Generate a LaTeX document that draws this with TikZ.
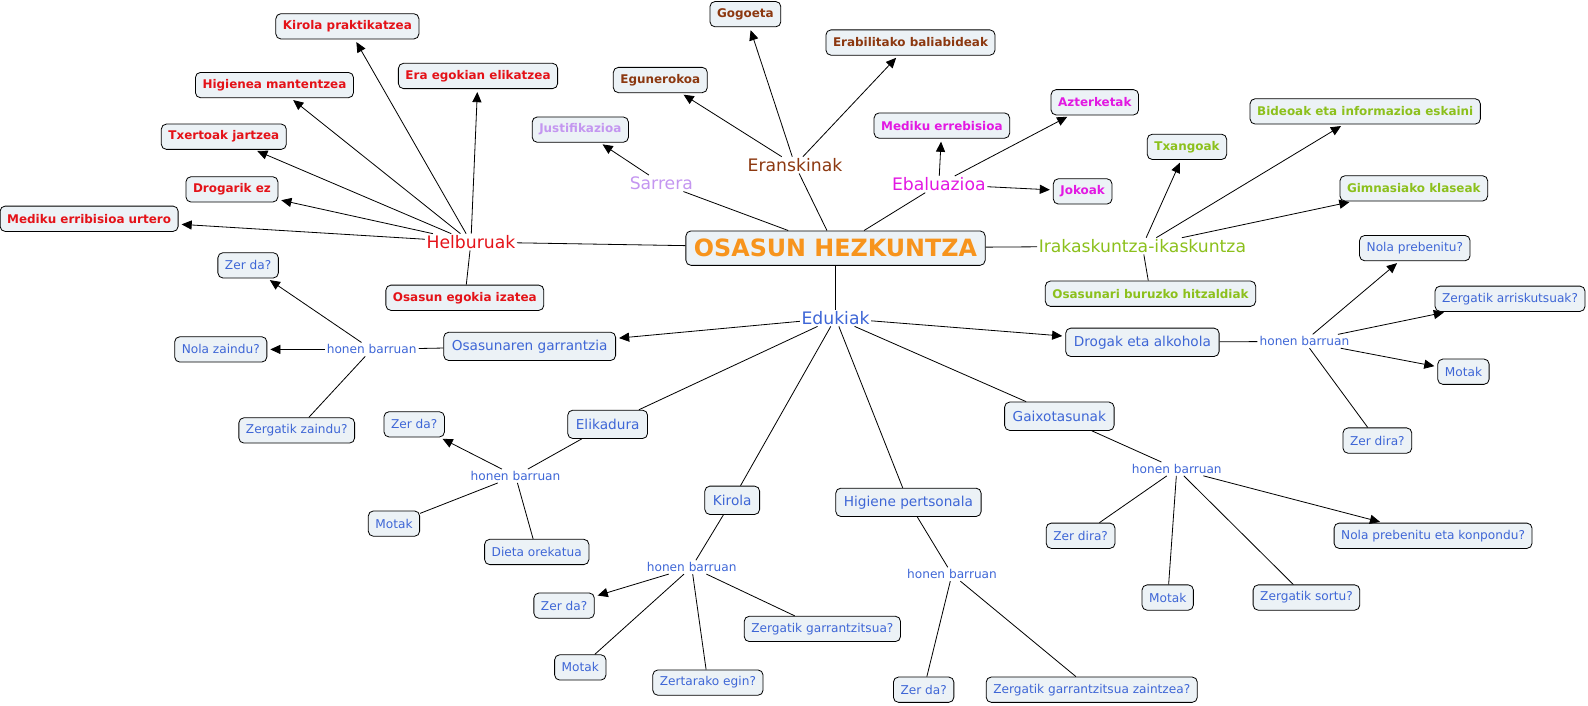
\documentclass[tikz,border=0pt]{standalone}
\usepackage{fontspec}
\setmainfont{DejaVu Sans}
\usetikzlibrary{arrows.meta}
\definecolor{boxfill}{RGB}{236,242,246}
\definecolor{cred}{RGB}{228,18,24}
\definecolor{corange}{RGB}{247,148,29}
\definecolor{clav}{RGB}{196,150,240}
\definecolor{cbrown}{RGB}{140,56,16}
\definecolor{cmag}{RGB}{226,24,226}
\definecolor{cgreen}{RGB}{140,192,28}
\definecolor{cblue}{RGB}{62,102,214}
\begin{document}
\begin{tikzpicture}[x=1pt,y=-1pt,
  bx/.style={draw=black, line width=0.8pt, rounded corners=5pt, fill=boxfill, inner xsep=7pt, inner ysep=0pt, minimum height=25pt, text=cblue, font=\fontsize{12}{14}\selectfont},
  bbx/.style={bx, font=\bfseries\fontsize{11.8}{14}\selectfont},
  mbx/.style={bx, minimum height=28pt, inner xsep=8pt, font=\fontsize{13.5}{16}\selectfont},
  lab/.style={inner sep=1.5pt, font=\fontsize{17}{20}\selectfont},
  hbl/.style={inner sep=2pt, text=cblue, font=\fontsize{12}{14}\selectfont},
  con/.style={line width=0.8pt},
  arr/.style={con, -{Triangle[length=10pt,width=9pt]}, shorten >=3pt}]
\useasboundingbox (0,0) rectangle (1568,697);

% centre
\node[bx, minimum height=34pt, inner xsep=8pt, text=corange, font=\bfseries\fontsize{23.5}{28}\selectfont] (main) at (825,245) {OSASUN HEZKUNTZA};

% Helburuak
\node[lab, text=cred] (hel) at (465,239) {Helburuak};
\node[bbx, text=cred] (kp) at (343,26) {Kirola praktikatzea};
\node[bbx, text=cred] (ee) at (472,75) {Era egokian elikatzea};
\node[bbx, text=cred] (hm) at (271,84) {Higienea mantentzea};
\node[bbx, text=cred] (tj) at (221,135) {Txertoak jartzea};
\node[bbx, text=cred] (de) at (229,187) {Drogarik ez};
\node[bbx, text=cred] (mu) at (88,216) {Mediku erribisioa urtero};
\node[bbx, text=cred] (oe) at (459,294) {Osasun egokia izatea};

% Sarrera
\node[lab, text=clav] (sar) at (653,181) {Sarrera};
\node[bbx, text=clav] (ju) at (573,128) {Justifikazioa};

% Eranskinak
\node[lab, text=cbrown] (era) at (785,163) {Eranskinak};
\node[bbx, text=cbrown] (go) at (736,14) {Gogoeta};
\node[bbx, text=cbrown] (eg) at (652,79) {Egunerokoa};
\node[bbx, text=cbrown] (eb) at (899,42) {Erabilitako baliabideak};

% Ebaluazioa
\node[lab, text=cmag] (eba) at (927,182) {Ebaluazioa};
\node[bbx, text=cmag] (me) at (930,124) {Mediku errebisioa};
\node[bbx, text=cmag] (az) at (1081,101) {Azterketak};
\node[bbx, text=cmag] (jo) at (1069,189) {Jokoak};

% Irakaskuntza
\node[lab, text=cgreen] (ira) at (1128,243) {Irakaskuntza-ikaskuntza};
\node[bbx, text=cgreen] (tx) at (1172,145) {Txangoak};
\node[bbx, text=cgreen] (bi) at (1348,110) {Bideoak eta informazioa eskaini};
\node[bbx, text=cgreen] (gi) at (1396,186) {Gimnasiako klaseak};
\node[bbx, text=cgreen] (oh) at (1136,290) {Osasunari buruzko hitzaldiak};

% Edukiak
\node[lab, text=cblue] (edu) at (825,314) {Edukiak};
\node[mbx] (og) at (523,342) {Osasunaren garrantzia};
\node[mbx] (da) at (1128,338) {Drogak eta alkohola};
\node[mbx] (el) at (600,419) {Elikadura};
\node[mbx] (ki) at (723,494) {Kirola};
\node[mbx] (hp) at (897,496) {Higiene pertsonala};
\node[mbx] (ga) at (1046,411) {Gaixotasunak};

% Osasunaren garrantzia
\node[hbl] (hb1) at (367,345) {honen barruan};
\node[bx] (zd1) at (245,262) {Zer da?};
\node[bx] (nz) at (218,345) {Nola zaindu?};
\node[bx] (zz) at (293,425) {Zergatik zaindu?};

% Drogak
\node[hbl] (hb2) at (1288,337) {honen barruan};
\node[bx] (np) at (1397,245) {Nola prebenitu?};
\node[bx] (za) at (1491,295) {Zergatik arriskutsuak?};
\node[bx] (mo2) at (1445,367) {Motak};
\node[bx] (zdr2) at (1360,435) {Zer dira?};

% Elikadura
\node[hbl] (hb3) at (509,470) {honen barruan};
\node[bx] (zd3) at (409,419) {Zer da?};
\node[bx] (mo3) at (389,517) {Motak};
\node[bx] (dio) at (530,545) {Dieta orekatua};

% Kirola
\node[hbl] (hb4) at (683,560) {honen barruan};
\node[bx] (zd4) at (557,598) {Zer da?};
\node[bx] (mo4) at (573,659) {Motak};
\node[bx] (ze) at (699,674) {Zertarako egin?};
\node[bx] (zg) at (812,621) {Zergatik garrantzitsua?};

% Higiene
\node[hbl] (hb5) at (940,567) {honen barruan};
\node[bx] (zd5) at (912,681) {Zer da?};
\node[bx] (zgz) at (1078,681) {Zergatik garrantzitsua zaintzea?};

% Gaixotasunak
\node[hbl] (hb6) at (1162,463) {honen barruan};
\node[bx] (zdr6) at (1067,529) {Zer dira?};
\node[bx] (mo6) at (1153,590) {Motak};
\node[bx] (zs) at (1290,590) {Zergatik sortu?};
\node[bx] (npk) at (1415,529) {Nola prebenitu eta konpondu?};

% plain connectors
\foreach \a/\b in {main/hel, main/sar, main/era, main/eba, main/ira, main/edu,
  hel/oe, ira/oh, edu/el, edu/ki, edu/hp, edu/ga,
  og/hb1, hb1/zz, da/hb2, hb2/zdr2, el/hb3, hb3/mo3, hb3/dio,
  ki/hb4, hb4/mo4, hb4/ze, hb4/zg, hp/hb5, hb5/zd5, hb5/zgz,
  ga/hb6, hb6/zdr6, hb6/mo6, hb6/zs}
  \draw[con] (\a) -- (\b);

% arrows
\foreach \a/\b in {hel/kp, hel/ee, hel/hm, hel/tj, hel/de, hel/mu,
  sar/ju, era/go, era/eg, era/eb, eba/me, eba/az, eba/jo,
  ira/tx, ira/bi, ira/gi, edu/og, edu/da,
  hb1/zd1, hb1/nz, hb2/np, hb2/za, hb2/mo2, hb3/zd3, hb4/zd4, hb6/npk}
  \draw[arr] (\a) -- (\b);
\end{tikzpicture}
\end{document}
